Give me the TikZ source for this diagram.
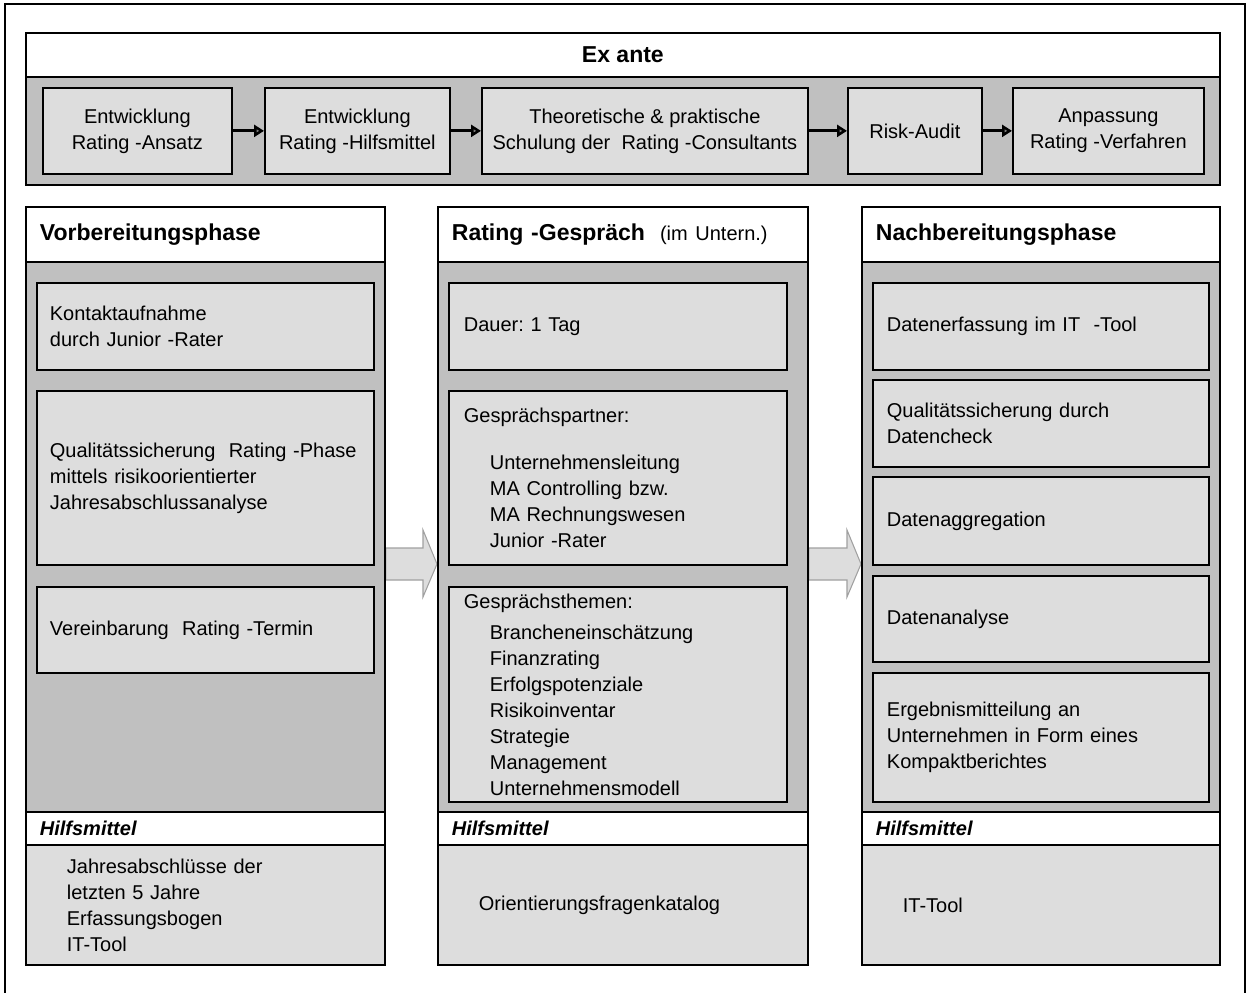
\documentclass[tikz,border=0pt]{standalone}
\usepackage{fontspec}
\setmainfont{Liberation Sans}
\usetikzlibrary{arrows.meta,backgrounds}
\definecolor{koerpergrau}{HTML}{C0C0C0}
\definecolor{feldgrau}{HTML}{DDDDDD}
\definecolor{pfeilrand}{HTML}{A0A0A0}
\newcommand{\grundschrift}{\fontsize{11.38}{14.8}\selectfont}
\newcommand{\titelschrift}{\fontsize{13.1}{16}\selectfont\bfseries}
\newcommand{\einr}{\hspace*{0.52cm}}
\frenchspacing

\begin{document}
\begin{tikzpicture}[x=0.02cm, y=-0.02cm,
        groesse/.style 2 args={minimum width=#1*0.02cm, minimum height=#2*0.02cm},
        rahmen/.style={draw, line width=1pt, inner sep=0pt, anchor=north west, font=\grundschrift},
        kopf/.style={rahmen, fill=white, align=left, font=\titelschrift},
        hilfe/.style={rahmen, fill=white, align=left, font=\grundschrift\bfseries\itshape},
        koerper/.style={rahmen, fill=koerpergrau},
        feld/.style={rahmen, fill=feldgrau, align=left},
        zfeld/.style={rahmen, fill=feldgrau, align=center},
        verbinder/.style={line width=1.6pt, -{Triangle[length=0.2cm, width=0.24cm, fill=gray]}},
        blockpfeil/.style={draw=pfeilrand, fill=feldgrau, line width=0.6pt}]
        \useasboundingbox (0,0) rectangle (1248,993);
        \draw[line width=1.1pt] (5,993) -- (5,4) -- (1245,4) -- (1245,993);

        % Ex ante
        \node[kopf, groesse={1194}{44}, align=center] (exante-kopf) at (25,32) {Ex ante};
        \node[koerper, groesse={1194}{108}] (exante) at (25,76) {};
        \node[zfeld, groesse={189}{86}] (ansatz) at (42,87) {Entwicklung\\Rating -Ansatz};
        \node[zfeld, groesse={185}{86}] (werkzeug) at (264,87) {Entwicklung\\Rating -Hilfsmittel};
        \node[zfeld, groesse={326}{86}] (schulung) at (481,87) {Theoretische \& praktische\\Schulung der~~Rating -Consultants};
        \node[zfeld, groesse={134}{86}] (audit) at (847,87) {Risk-Audit};
        \node[zfeld, groesse={191}{86}] (anpassung) at (1012,87) {Anpassung\\Rating -Verfahren};
        \foreach \a/\b in {ansatz/werkzeug, werkzeug/schulung, schulung/audit, audit/anpassung}{
            \draw[verbinder] (\a) -- (\b);
        }

        % Vorbereitungsphase
        \node[kopf, groesse={359}{55}, text width=6.62cm, inner xsep=0.28cm] (vorb-kopf) at (25,206) {Vorbereitungsphase};
        \node[koerper, groesse={359}{550}] (vorb) at (25,261) {};
        \node[hilfe, groesse={359}{33}, text width=6.62cm, inner xsep=0.28cm] (vorb-hilfe) at (25,811) {Hilfsmittel};
        \node[feld, groesse={359}{120}, text width=5.54cm, inner xsep=0.82cm] (vorb-mittel) at (25,844) {Jahresabschlüsse der\\letzten 5 Jahre\\Erfassungsbogen\\IT-Tool};
        \node[feld, groesse={337}{87}, text width=6.22cm, inner xsep=0.26cm] (kontakt) at (36,282) {Kontaktaufnahme\\durch Junior -Rater};
        \node[feld, groesse={337}{174}, text width=6.22cm, inner xsep=0.26cm] (qualitaet) at (36,390) {\mbox{Qualitätssicherung~~Rating -Phase}\\mittels risikoorientierter\\Jahresabschlussanalyse};
        \node[feld, groesse={337}{86}, text width=6.22cm, inner xsep=0.26cm] (termin) at (36,586) {Vereinbarung~~Rating -Termin};

        % Rating-Gespraech
        \node[kopf, groesse={370}{55}, text width=6.84cm, inner xsep=0.28cm] (gespr-kopf) at (437,206) {Rating -Gespräch\hspace{0.3cm}{\mdseries\grundschrift (im Untern.)}};
        \node[koerper, groesse={370}{550}] (gespr) at (437,261) {};
        \node[hilfe, groesse={370}{33}, text width=6.84cm, inner xsep=0.28cm] (gespr-hilfe) at (437,811) {Hilfsmittel};
        \node[feld, groesse={370}{120}, text width=5.76cm, inner xsep=0.82cm] (gespr-mittel) at (437,844) {Orientierungsfragenkatalog};
        \node[feld, groesse={338}{87}, text width=6.16cm, inner xsep=0.3cm] (dauer) at (448,282) {Dauer: 1 Tag};
        \node[feld, groesse={338}{174}, text width=6.16cm, inner xsep=0.3cm] (partner) at (448,390) {Gesprächspartner:\\[0.42cm]\einr Unternehmensleitung\\\einr MA Controlling bzw.\\\einr MA Rechnungswesen\\\einr Junior -Rater};
        \node[feld, groesse={338}{215}, text width=6.16cm, inner xsep=0.3cm] (themen) at (448,586) {Gesprächsthemen:\\[0.1cm]\einr Brancheneinschätzung\\\einr Finanzrating\\\einr Erfolgspotenziale\\\einr Risikoinventar\\\einr Strategie\\\einr Management\\\einr Unternehmensmodell};

        % Nachbereitungsphase
        \node[kopf, groesse={358}{55}, text width=6.6cm, inner xsep=0.28cm] (nach-kopf) at (861,206) {Nachbereitungsphase};
        \node[koerper, groesse={358}{550}] (nach) at (861,261) {};
        \node[hilfe, groesse={358}{33}, text width=6.6cm, inner xsep=0.28cm] (nach-hilfe) at (861,811) {Hilfsmittel};
        \node[feld, groesse={358}{120}, text width=5.52cm, inner xsep=0.82cm] (nach-mittel) at (861,844) {IT-Tool};
        \node[feld, groesse={336}{87}, text width=6.16cm, inner xsep=0.28cm] (erfassung) at (872,282) {Datenerfassung im IT~~-Tool};
        \node[feld, groesse={336}{87}, text width=6.16cm, inner xsep=0.28cm] (datencheck) at (872,379) {Qualitätssicherung durch\\Datencheck};
        \node[feld, groesse={336}{88}, text width=6.16cm, inner xsep=0.28cm] (aggregation) at (872,476) {Datenaggregation};
        \node[feld, groesse={336}{86}, text width=6.16cm, inner xsep=0.28cm] (analyse) at (872,575) {Datenanalyse};
        \node[feld, groesse={336}{129}, text width=6.16cm, inner xsep=0.28cm] (ergebnis) at (872,672) {Ergebnismitteilung an\\Unternehmen in Form eines\\Kompaktberichtes};

        % Pfeile zwischen den Phasen
        \begin{scope}[on background layer]
            \draw[blockpfeil] (vorb.east |- 0,548) -- (423,548) -- (423,530) -- (gespr.west |- 0,564) -- (423,597) -- (423,580) -- (vorb.east |- 0,580) -- cycle;
            \draw[blockpfeil] (gespr.east |- 0,548) -- (847,548) -- (847,530) -- (nach.west |- 0,564) -- (847,597) -- (847,580) -- (gespr.east |- 0,580) -- cycle;
        \end{scope}
    \end{tikzpicture}
\end{document}
